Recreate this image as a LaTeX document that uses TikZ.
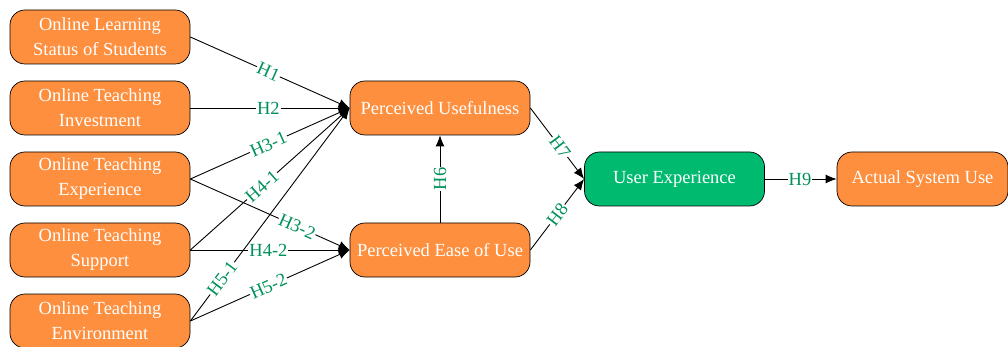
\documentclass[tikz,border=0pt]{standalone}
\usepackage{fontspec}
\setmainfont{Liberation Serif}
\usepackage{tikz}
\usetikzlibrary{arrows.meta}

\definecolor{boxorange}{RGB}{253,143,62}
\definecolor{boxgreen}{RGB}{0,186,112}
\definecolor{hypgreen}{RGB}{0,145,90}

\begin{document}
\begin{tikzpicture}[x=1pt, y=-1pt, -{Latex[length=11pt,width=9pt]}, line width=0.9pt,
    factor/.style={rounded corners=15pt, draw=black, line width=0.7pt, fill=boxorange,
        text=white, minimum width=180pt, minimum height=54pt, align=center,
        inner sep=2pt, font=\rmfamily\fontsize{18.5}{25}\selectfont},
    outcome/.style={factor, fill=boxgreen},
    hyp/.style={fill=white, text=hypgreen, inner sep=1pt, sloped,
        font=\rmfamily\fontsize{18.5}{20}\selectfont}]
    \useasboundingbox (0, 0) rectangle (1008, 347);
    \node[factor] (LS) at (100, 37) {Online Learning\\Status of Students};
    \node[factor] (TI) at (100, 108) {Online Teaching\\Investment};
    \node[factor] (TX) at (100, 179) {Online Teaching\\Experience};
    \node[factor] (TS) at (100, 250) {Online Teaching\\Support};
    \node[factor] (TE) at (100, 321) {Online Teaching\\Environment};
    \node[factor] (PU) at (440, 108) {Perceived Usefulness};
    \node[factor] (PE) at (440, 250) {Perceived Ease of Use};
    \node[outcome] (UX) at (674.5, 179) {User Experience};
    \node[factor, minimum width=171pt] (AU) at (922.5, 179) {Actual System Use};
    \draw (LS.east) -- node[hyp, pos=0.49] {H1} (PU.west);
    \draw (TI.east) -- node[hyp, pos=0.49] {H2} (PU.west);
    \draw (TX.east) -- node[hyp, pos=0.49] {H3-1} (PU.west);
    \draw (TX.east) -- node[hyp, pos=0.67] {H3-2} (PE.west);
    \draw (TS.east) -- node[hyp, pos=0.45] {H4-1} (PU.west);
    \draw (TS.east) -- node[hyp, pos=0.49] {H4-2} (PE.west);
    \draw (TE.east) -- node[hyp, pos=0.2] {H5-1} (PU.west);
    \draw (TE.east) -- node[hyp, pos=0.49] {H5-2} (PE.west);
    \draw (PE.north) -- node[hyp] {H6} (PU.south);
    \draw (PU.east) -- node[hyp, pos=0.55] {H7} (UX.west);
    \draw (PE.east) -- node[hyp, pos=0.5] {H8} (UX.west);
    \draw (UX.east) -- node[hyp, pos=0.49] {H9} (AU.west);
\end{tikzpicture}
\end{document}
